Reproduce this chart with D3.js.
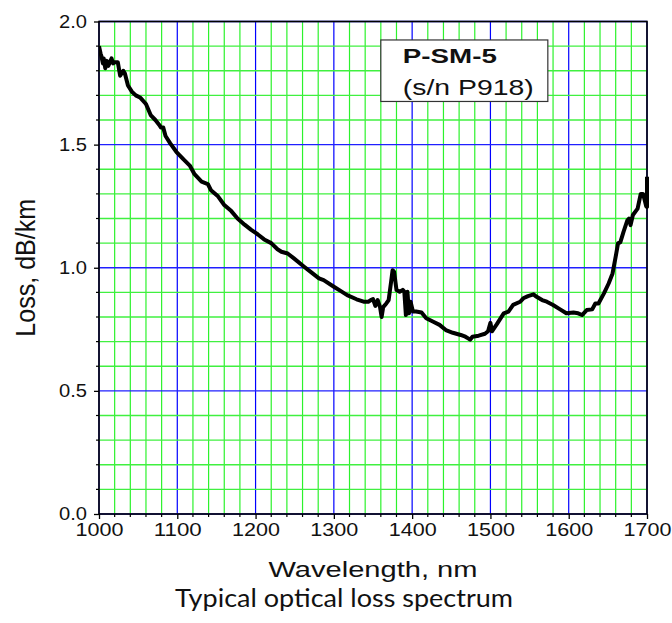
<!DOCTYPE html>
<html>
<head>
<meta charset="utf-8">
<script src="https://cdn.jsdelivr.net/npm/d3@7"></script>
<style>
  body { margin: 0; background: #fff; }
  text { fill: #111; }
</style>
</head>
<body>
<div id="chart"></div>
<script>
// data
var wavelength = [1000, 1002, 1003, 1005, 1006, 1008, 1010, 1012, 1014, 1016, 1018, 1020, 1024, 1027, 1029, 1031, 1033, 1037,
  1042, 1047, 1053, 1060, 1066, 1072, 1077, 1079, 1082, 1085, 1091, 1099, 1108, 1116, 1122, 1131, 1139, 1143, 1152, 1160,
  1169, 1177, 1186, 1194, 1203, 1211, 1220, 1228, 1233, 1241, 1249, 1262, 1270, 1281, 1287, 1300, 1308, 1317, 1329, 1338,
  1344, 1348, 1350, 1353, 1356, 1359, 1361, 1363, 1367, 1370, 1373, 1375, 1377, 1380, 1384, 1388, 1390, 1392, 1394, 1396,
  1398, 1401, 1405, 1412, 1418, 1427, 1435, 1443, 1452, 1462, 1468, 1471, 1474, 1477, 1485, 1493, 1497, 1500, 1502, 1508,
  1517, 1523, 1529, 1538, 1542, 1548, 1555, 1559, 1566, 1572, 1580, 1589, 1597, 1606, 1612, 1617, 1623, 1630, 1634, 1638,
  1645, 1651, 1656, 1660, 1663, 1666, 1670, 1675, 1677, 1679, 1682, 1688, 1692, 1695, 1699, 1700, 1700];
var loss = [1.90, 1.87, 1.86, 1.83, 1.85, 1.81, 1.84, 1.82, 1.835, 1.85, 1.83, 1.835, 1.835, 1.78, 1.79, 1.80, 1.79, 1.74,
  1.715, 1.70, 1.69, 1.665, 1.62, 1.60, 1.58, 1.57, 1.57, 1.535, 1.505, 1.47, 1.44, 1.415, 1.38, 1.35, 1.34, 1.315, 1.29, 1.255,
  1.23, 1.20, 1.175, 1.155, 1.135, 1.115, 1.10, 1.075, 1.065, 1.058, 1.038, 1.004, 0.984, 0.957, 0.95, 0.923, 0.907, 0.889, 0.872, 0.862,
  0.862, 0.87, 0.873, 0.845, 0.869, 0.84, 0.80, 0.84, 0.855, 0.869, 0.94, 0.99, 0.983, 0.91, 0.903, 0.91, 0.903, 0.808, 0.903, 0.815,
  0.862, 0.822, 0.822, 0.818, 0.795, 0.781, 0.768, 0.747, 0.736, 0.727, 0.72, 0.714, 0.708, 0.72, 0.724, 0.732, 0.742, 0.776, 0.742, 0.77,
  0.815, 0.822, 0.849, 0.862, 0.876, 0.885, 0.892, 0.882, 0.869, 0.862, 0.849, 0.831, 0.815, 0.818, 0.815, 0.808, 0.828, 0.831, 0.855, 0.855,
  0.896, 0.936, 0.977, 1.045, 1.099, 1.104, 1.146, 1.193, 1.20, 1.173, 1.214, 1.24, 1.30, 1.30, 1.25, 1.247, 1.37];

var xTicks = [1000, 1100, 1200, 1300, 1400, 1500, 1600, 1700];
var yTicks = [0.0, 0.5, 1.0, 1.5, 2.0];
var legendLines = ["P-SM-5", "(s/n P918)"];

var svgWidth = 672;
var svgHeight = 623;
var margin = { top: 21.5, right: 25, bottom: 109, left: 99 };
var width = svgWidth - margin.left - margin.right;
var height = svgHeight - margin.top - margin.bottom;
var arial = "'Liberation Sans', Arial, sans-serif";

var svg = d3.select("#chart")
  .append("svg")
  .attr("width", svgWidth)
  .attr("height", svgHeight)
  .style("font-family", arial);

var chartGroup = svg.append("g")
  .attr("transform", `translate(${margin.left}, ${margin.top})`);

var xScale = d3.scaleLinear().domain([1000, 1700]).range([0, width]);
var yScale = d3.scaleLinear().domain([0, 2]).range([height, 0]);

var xMinor = d3.range(1000, 1701, 20);
var yMinor = d3.range(0, 21).map(d => d / 10);

// grid - green every 20 nm / 0.1, blue at the major ticks
chartGroup.selectAll(".vgrid")
  .data(xMinor)
  .enter()
  .append("line")
  .attr("x1", d => xScale(d))
  .attr("x2", d => xScale(d))
  .attr("y1", 0)
  .attr("y2", height)
  .attr("stroke", d => d % 100 === 0 ? "#0000ff" : "#2cf22c")
  .attr("stroke-width", 1.2);

chartGroup.selectAll(".hgrid")
  .data(yMinor)
  .enter()
  .append("line")
  .attr("x1", 0)
  .attr("x2", width)
  .attr("y1", d => yScale(d))
  .attr("y2", d => yScale(d))
  .attr("stroke", d => Math.round(d * 10) % 5 === 0 ? "#2020ff" : "#40f040")
  .attr("stroke-width", 1.3);

// legend box
var legend = chartGroup.append("g")
  .attr("transform", `translate(${xScale(1360)}, ${yScale(1.925)})`);

legend.append("rect")
  .attr("width", 167)
  .attr("height", 61.5)
  .attr("fill", "#fff")
  .attr("stroke", "#333")
  .attr("stroke-width", 1.2);

legend.append("text")
  .attr("x", 22)
  .attr("y", 23.5)
  .attr("font-size", 21)
  .attr("font-weight", "bold")
  .attr("textLength", 94)
  .attr("lengthAdjust", "spacingAndGlyphs")
  .text(legendLines[0]);

legend.append("text")
  .attr("x", 22)
  .attr("y", 55.5)
  .attr("font-size", 22)
  .attr("textLength", 131)
  .attr("lengthAdjust", "spacingAndGlyphs")
  .text(legendLines[1]);

// the curve
chartGroup.append("clipPath")
  .attr("id", "plotClip")
  .append("rect")
  .attr("width", width + 2)
  .attr("height", height);

var line = d3.line()
  .x((d, i) => xScale(wavelength[i]))
  .y(d => yScale(d));

chartGroup.append("path")
  .datum(loss)
  .attr("clip-path", "url(#plotClip)")
  .attr("fill", "none")
  .attr("stroke", "#000")
  .attr("stroke-width", 4)
  .attr("stroke-linejoin", "round")
  .attr("d", line);

// axes
var bottomAxis = d3.axisBottom(xScale).tickValues(xTicks).tickFormat(d3.format("d")).tickSize(5).tickPadding(4);
var leftAxis = d3.axisLeft(yScale).tickValues(yTicks).tickFormat(d3.format(".1f")).tickSize(5).tickPadding(7);

var xAxisG = chartGroup.append("g")
  .attr("transform", `translate(0, ${height})`)
  .call(bottomAxis);

var yAxisG = chartGroup.append("g")
  .call(leftAxis);

[xAxisG, yAxisG].forEach(function(g) {
  g.attr("font-family", null).attr("font-size", null);
  g.select(".domain").remove();
  g.selectAll("line").attr("stroke", "#000").attr("stroke-width", 1.3);
  g.selectAll("text").attr("font-size", 18.5).attr("fill", "#111");
});
xAxisG.selectAll("text").attr("textLength", 48).attr("lengthAdjust", "spacingAndGlyphs");
yAxisG.selectAll("text").attr("textLength", 28).attr("lengthAdjust", "spacingAndGlyphs");

// minor ticks
chartGroup.selectAll(".xminor")
  .data(xMinor.filter(d => d % 100 !== 0))
  .enter()
  .append("line")
  .attr("x1", d => xScale(d))
  .attr("x2", d => xScale(d))
  .attr("y1", height)
  .attr("y2", height + 3)
  .attr("stroke", "#000")
  .attr("stroke-width", 1.2);

chartGroup.selectAll(".yminor")
  .data(yMinor.filter(d => Math.round(d * 10) % 5 !== 0))
  .enter()
  .append("line")
  .attr("x1", -3)
  .attr("x2", 0)
  .attr("y1", d => yScale(d))
  .attr("y2", d => yScale(d))
  .attr("stroke", "#000")
  .attr("stroke-width", 1.2);

// frame
chartGroup.append("rect")
  .attr("width", width)
  .attr("height", height)
  .attr("fill", "none")
  .attr("stroke", "#000")
  .attr("stroke-width", 1.6);

// axis titles
chartGroup.append("text")
  .attr("transform", `translate(${-64}, ${height / 2}) rotate(-90)`)
  .attr("text-anchor", "middle")
  .attr("font-size", 27)
  .attr("textLength", 138)
  .attr("lengthAdjust", "spacingAndGlyphs")
  .text("Loss, dB/km");

chartGroup.append("text")
  .attr("x", width / 2)
  .attr("y", height + 63)
  .attr("text-anchor", "middle")
  .attr("font-size", 22)
  .attr("textLength", 209)
  .attr("lengthAdjust", "spacingAndGlyphs")
  .text("Wavelength, nm");

svg.append("text")
  .attr("x", 344)
  .attr("y", 607)
  .attr("text-anchor", "middle")
  .style("font-family", "Lato, 'Open Sans', sans-serif")
  .attr("font-size", 25)
  .attr("textLength", 338)
  .attr("lengthAdjust", "spacingAndGlyphs")
  .text("Typical optical loss spectrum");
</script>
</body>
</html>
